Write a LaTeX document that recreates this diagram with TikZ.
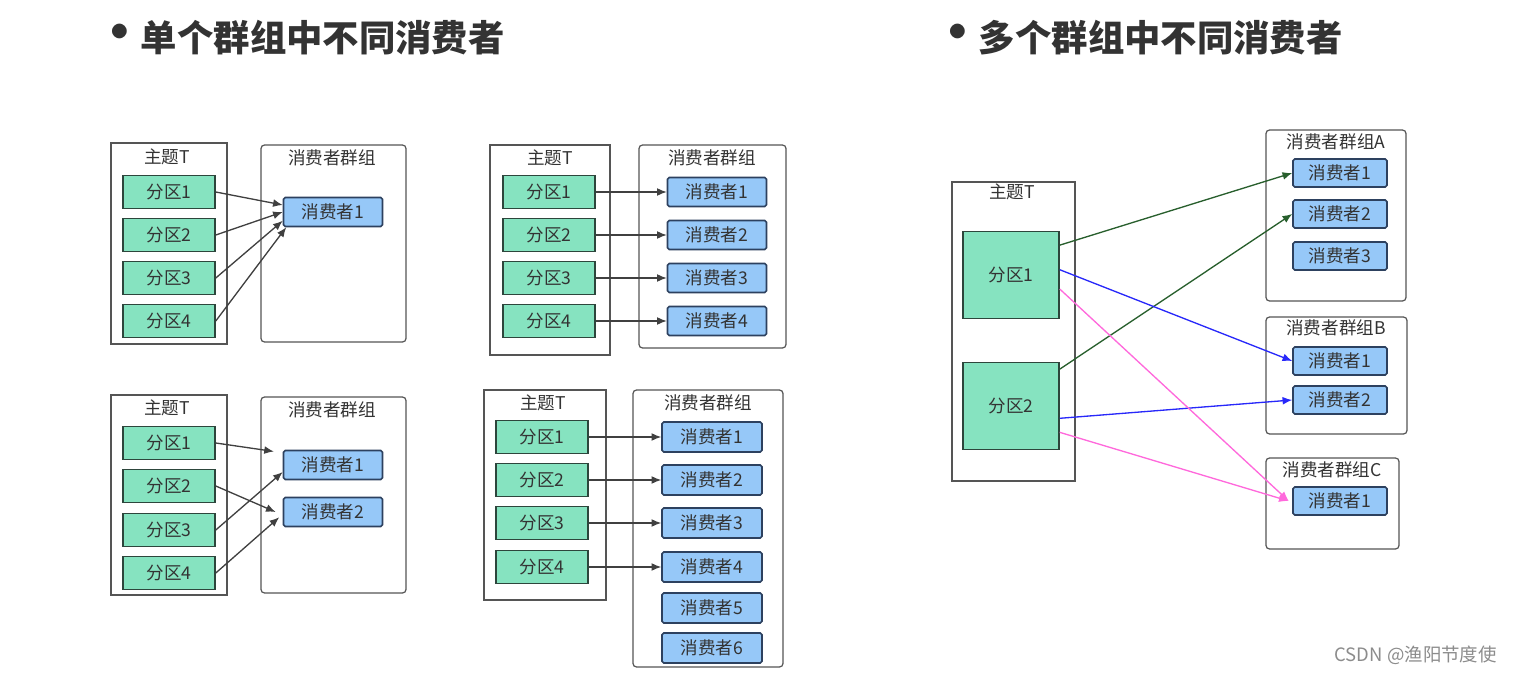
\documentclass[tikz,border=0pt]{standalone}
\usepackage{fontspec}
\setmainfont{Noto Sans CJK SC}
\usepackage{tikz}
\usepackage{xcolor}
\usetikzlibrary{arrows.meta}

\definecolor{partfill}{RGB}{134,227,192}
\definecolor{partline}{RGB}{45,70,60}
\definecolor{consfill}{RGB}{150,200,248}
\definecolor{consline}{RGB}{45,65,95}
\definecolor{boxline}{RGB}{85,85,85}
\definecolor{txtgray}{RGB}{51,51,51}
\definecolor{arrgreen}{RGB}{40,95,45}
\definecolor{arrblue}{RGB}{40,40,250}
\definecolor{arrpink}{RGB}{255,105,220}

\newcommand{\bigdot}{{\fontsize{30}{30}\selectfont•}\hspace{-3pt}}

\tikzset{
  part/.style={draw=partline, fill=partfill, line width=0.9pt, minimum width=1.84cm, minimum height=0.66cm,
    inner sep=0pt, font=\fontsize{10}{12}\selectfont, text=txtgray},
  bigpart/.style={part, minimum width=1.92cm, minimum height=1.74cm},
  cons/.style={draw=consline, fill=consfill, line width=0.9pt, rounded corners=1pt, minimum width=1.98cm,
    minimum height=0.58cm, inner sep=0pt, font=\fontsize{10}{12}\selectfont, text=txtgray},
  topicbox/.style={draw=boxline, line width=0.7pt},
  groupbox/.style={draw=boxline, line width=0.7pt, rounded corners=2pt},
  lbl/.style={font=\fontsize{10}{12}\selectfont, text=txtgray, inner sep=0pt},
  heading/.style={font=\fontsize{20.7}{24}\selectfont\bfseries, text=txtgray, inner sep=0pt},
  link/.style={-{Latex[length=5.5pt,width=4.5pt]}, line width=0.75pt, draw=black!75},
}

\begin{document}
\begin{tikzpicture}[x=0.02cm, y=-0.02cm]
    \useasboundingbox (0,0) rectangle (1519,676);
    \fill[white] (0,0) rectangle (1519,676);

    % Headings
    \node[heading, anchor=east] (heada) at (505,38) {\bigdot 单个群组中不同消费者};
    \node[heading, anchor=east] (headb) at (1343,38) {\bigdot 多个群组中不同消费者};

    % Four partitions, one consumer
    \draw[topicbox] (111,143) rectangle (227,344);
    \draw[groupbox] (261,145) rectangle (406,342);
    \node[lbl] (ta) at (167,157) {主题T};
    \node[lbl] (ga) at (332,158) {消费者群组};
    \foreach \i/\y in {1/192,2/235,3/278,4/321}
        \node[part] (a\i) at (169,\y) {分区\i};
    \node[cons] (ac1) at (333,212) {消费者1};
    \draw[link] (a1.east) -- ([yshift=4pt]ac1.west);
    \draw[link] (a2.east) -- (ac1.west);
    \draw[link] (a3.east) -- ([yshift=-5pt]ac1.west);
    \draw[link] (a4.east) -- ([xshift=2pt]ac1.south west);

    % Four partitions, four consumers
    \draw[topicbox] (490,145) rectangle (610,355);
    \draw[groupbox] (639,145) rectangle (786,348);
    \node[lbl] (tb) at (550,158) {主题T};
    \node[lbl] (gb) at (712,158) {消费者群组};
    \foreach \i/\y in {1/192,2/235,3/278,4/321} {
        \node[part] (b\i) at (549,\y) {分区\i};
        \node[cons] (bc\i) at (717,\y) {消费者\i};
        \draw[link] (b\i) -- (bc\i);
    }

    % Four partitions, two consumers
    \draw[topicbox] (111,395) rectangle (227,595);
    \draw[groupbox] (261,397) rectangle (406,593);
    \node[lbl] (tc) at (167,408) {主题T};
    \node[lbl] (gc) at (332,410) {消费者群组};
    \foreach \i/\y in {1/443,2/486,3/530,4/573}
        \node[part] (c\i) at (169,\y) {分区\i};
    \node[cons] (cc1) at (333,465) {消费者1};
    \node[cons] (cc2) at (333,512) {消费者2};
    \draw[link] (c1.east) -- ([xshift=-5pt,yshift=-1pt]cc1.north west);
    \draw[link] (c2.east) -- ([xshift=-4pt]cc2.west);
    \draw[link] (c3.east) -- ([yshift=-4pt]cc1.west);
    \draw[link] (c4.east) -- ([xshift=-2pt,yshift=-3pt]cc2.west);

    % Four partitions, six consumers
    \draw[topicbox] (484,390) rectangle (606,600);
    \draw[groupbox] (633,390) rectangle (783,667);
    \node[lbl] (td) at (543,403) {主题T};
    \node[lbl] (gd) at (708,403) {消费者群组};
    \foreach \i/\y in {1/437,2/480,3/523,4/567,5/608,6/648}
        \node[cons, minimum width=2cm, minimum height=0.6cm] (dc\i) at (712,\y) {消费者\i};
    \foreach \i/\y in {1/437,2/480,3/523,4/567} {
        \node[part] (d\i) at (542,\y) {分区\i};
        \draw[link] (d\i) -- (dc\i);
    }

    % Two partitions, three groups
    \draw[topicbox] (952,182) rectangle (1075,481);
    \draw[groupbox] (1266,130) rectangle (1406,301);
    \draw[groupbox] (1266,317) rectangle (1407,434);
    \draw[groupbox] (1266,458) rectangle (1399,549);
    \node[lbl] (te) at (1012,192) {主题T};
    \node[lbl] (gea) at (1336,142) {消费者群组A};
    \node[lbl] (geb) at (1336,328) {消费者群组B};
    \node[lbl] (gec) at (1332,470) {消费者群组C};
    \node[bigpart] (e1) at (1011,275) {分区1};
    \node[bigpart] (e2) at (1011,406) {分区2};
    \foreach \i/\y in {1/173,2/214,3/256}
        \node[cons, minimum width=1.88cm, minimum height=0.56cm] (ea\i) at (1340,\y) {消费者\i};
    \foreach \i/\y in {1/361,2/400}
        \node[cons, minimum width=1.88cm, minimum height=0.56cm] (eb\i) at (1340,\y) {消费者\i};
    \node[cons, minimum width=1.88cm, minimum height=0.56cm] (ec1) at (1340,501) {消费者1};
    \draw[link, draw=arrgreen, fill=arrgreen] ([yshift=17pt]e1.east) -- (ea1.west);
    \draw[link, draw=arrgreen, fill=arrgreen] ([yshift=21pt]e2.east) -- (ea2.west);
    \draw[link, draw=arrblue, fill=arrblue] ([yshift=3pt]e1.east) -- (eb1.west);
    \draw[link, draw=arrblue, fill=arrblue] ([yshift=-7pt]e2.east) -- (eb2.west);
    \draw[link, draw=arrpink, fill=arrpink] ([yshift=-8pt]e1.east) -- ([xshift=-2pt]ec1.west);
    \draw[link, draw=arrpink, fill=arrpink] ([yshift=-15pt]e2.east) -- ([xshift=-2pt]ec1.west);

    % Watermark
    \node[font=\fontsize{10.5}{12}\selectfont, text=black!45, anchor=east] (mark) at (1503,655) {CSDN @渔阳节度使};
\end{tikzpicture}
\end{document}
